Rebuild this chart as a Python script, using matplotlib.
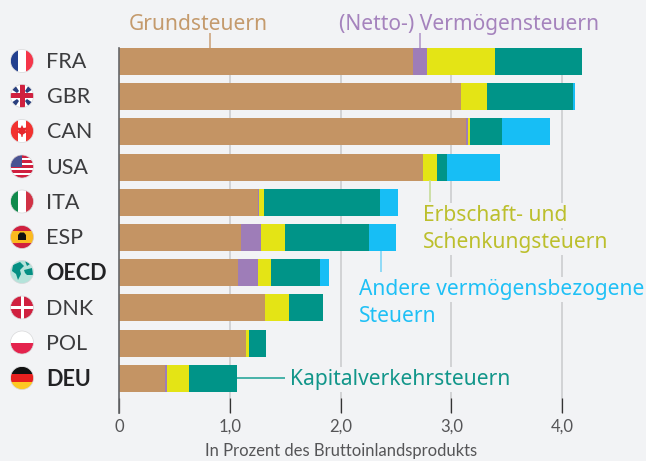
#!/usr/bin/env python3
"""Vermoegensbezogene Steuern in Prozent des BIP, gestapelte Balken mit Flaggen."""

import matplotlib
matplotlib.use("Agg")
import matplotlib.pyplot as plt
import numpy as np
from matplotlib.patches import Circle, Polygon, Rectangle

plt.rcParams["font.family"] = ["Lato", "DejaVu Sans"]

W, H = 646, 461
BG = "#f2f3f5"

countries = ["FRA", "GBR", "CAN", "USA", "ITA", "ESP", "OECD", "DNK", "POL", "DEU"]
bold_countries = ["OECD", "DEU"]
grund = [2.65, 3.09, 3.13, 2.74, 1.25, 1.10, 1.07, 1.32, 1.15, 0.415]
netto = [0.13, 0.00, 0.02, 0.00, 0.01, 0.18, 0.18, 0.00, 0.00, 0.02]
erbschaft = [0.61, 0.235, 0.02, 0.13, 0.05, 0.22, 0.125, 0.215, 0.02, 0.20]
kapital = [0.79, 0.775, 0.29, 0.09, 1.05, 0.76, 0.44, 0.305, 0.16, 0.43]
andere = [0.00, 0.02, 0.43, 0.48, 0.16, 0.24, 0.08, 0.00, 0.00, 0.00]
series = [grund, netto, erbschaft, kapital, andere]
colors = ["#c49464", "#9e7db8", "#e4e415", "#009488", "#17bef5"]
ticks = [0, 1, 2, 3, 4]
tick_labels = ["0", "1,0", "2,0", "3,0", "4,0"]

TEXT = "#3c3c3e"
GRID = "#c9cacc"

fig = plt.figure(figsize=(W / 100, H / 100), dpi=100, facecolor=BG)


def px_axes(x0, x1, y0, y1):
    return fig.add_axes([x0 / W, 1 - y1 / H, (x1 - x0) / W, (y1 - y0) / H])


# bars
ax = px_axes(119, 646, 48, 413)
ax.set_facecolor("none")
ax.set_xlim(0, 527 / 110.8)
ax.set_ylim((413 - 61.5) / 35.2, (48 - 61.5) / 35.2)
ax.set_axisbelow(True)
ax.xaxis.grid(True, color=GRID, linewidth=1.1)
y = np.arange(len(countries))
left = np.zeros(len(countries))
for values, color in zip(series, colors):
    ax.barh(y, values, left=left, height=27 / 35.2, color=color, linewidth=0)
    left += np.array(values)
for side in ("top", "right", "bottom"):
    ax.spines[side].set_visible(False)
ax.spines["left"].set_color("#66676a")
ax.spines["left"].set_linewidth(1.2)
ax.set_yticks([])
ax.set_xticks(ticks)
ax.set_xticklabels(tick_labels, fontsize=12, color="#555557")
ax.tick_params(axis="x", direction="in", length=10.8, width=0.9, color="#333333", pad=4)

# overlay in pixel coordinates for labels and flags
ov = px_axes(0, W, 0, H)
ov.set_xlim(0, W)
ov.set_ylim(H, 0)
ov.axis("off")
ov.patch.set_alpha(0)


def label(x, yc, text, color, size=15.1, box=True):
    kw = {"bbox": dict(facecolor=BG, edgecolor="none", pad=1.5)} if box else {}
    ov.text(x, yc + 1.5, text, color=color, fontsize=size, va="center", ha="left",
            family=["Noto Sans", "DejaVu Sans"], **kw)


def leader(xs, ys, color):
    ov.plot(xs, ys, color=color, linewidth=1.2, solid_capstyle="butt")


leader([210, 210], [33, 48], "#cda67f")
leader([420, 420], [33, 48], "#b49bcb")
leader([430, 430], [180, 202], "#c6dc98")
leader([381, 381], [251, 272], "#7ed6f7")
leader([237, 285], [378, 378], "#2aa79b")

label(129, 23, "Grundsteuern", "#c49a6c", box=False)
label(339, 23, "(Netto-) Vermögensteuern", "#a583bd", box=False)
label(423, 214, "Erbschaft- und", "#bcbf2c")
label(423, 241, "Schenkungsteuern", "#bcbf2c")
label(359, 288, "Andere vermögensbezogene", "#1fc0f5")
label(359, 315, "Steuern", "#1fc0f5")
label(290, 378, "Kapitalverkehrsteuern", "#12968a")

ov.text(341, 451, "In Prozent des Bruttoinlandsprodukts", fontsize=12,
        color="#555557", ha="center", va="center")


def add_flag(cx, cy, shapes, ring="#d8d8da"):
    r = 11.5
    clip = Circle((cx, cy), r, transform=ov.transData)
    for kind, coords, color in shapes:
        if kind == "rect":
            x0, y0, w, h = coords
            p = Rectangle((cx + x0, cy + y0), w, h, facecolor=color, edgecolor="none")
        else:
            p = Polygon([(cx + a, cy + b) for a, b in coords], facecolor=color, edgecolor="none")
        ov.add_patch(p)
        p.set_clip_path(clip)
    ov.add_patch(Circle((cx, cy), r, fill=False, edgecolor=ring, linewidth=0.5))


def vstripes(*cols):
    w = 23 / len(cols)
    return [("rect", (-11.5 + i * w, -11.5, w, 23), c) for i, c in enumerate(cols)]


def hstripes(*cols):
    h = 23 / len(cols)
    return [("rect", (-11.5, -11.5 + i * h, 23, h), c) for i, c in enumerate(cols)]


RED = "#d0203f"
flags = {
    "FRA": vstripes("#23408f", "#ffffff", "#f5364a"),
    "GBR": [("rect", (-12, -12, 24, 24), "#ffffff"),
            ("poly", [(-11, -11), (-7, -11), (-3, -5), (-5, -3), (-11, -7)], "#2a3f7e"),
            ("poly", [(11, -11), (7, -11), (3, -5), (5, -3), (11, -7)], "#2a3f7e"),
            ("poly", [(-11, 11), (-7, 11), (-3, 5), (-5, 3), (-11, 7)], "#2a3f7e"),
            ("poly", [(11, 11), (7, 11), (3, 5), (5, 3), (11, 7)], "#2a3f7e"),
            ("rect", (-2.5, -12, 5, 24), RED), ("rect", (-12, -2.5, 24, 5), RED)],
    "CAN": vstripes("#f2312f", "#ffffff", "#f2312f") + [
        ("poly", [(0, -6), (1.5, -3), (4.5, -3.5), (3.5, 0), (5, 1), (1, 3.5), (0.5, 6),
                  (-0.5, 6), (-1, 3.5), (-5, 1), (-3.5, 0), (-4.5, -3.5), (-1.5, -3)], "#e5262c")],
    "USA": hstripes(RED, "#ffffff", RED, "#ffffff", RED, "#ffffff", RED, "#ffffff", RED)
           + [("rect", (-12, -12, 12, 12), "#4a5392")],
    "ITA": vstripes("#108a4c", "#ffffff", "#d13245"),
    "ESP": [("rect", (-12, -12, 24, 24), RED), ("rect", (-12, -6, 24, 12), "#fbb91f"),
            ("poly", [(-4, 3), (-4, -2), (-2, -4.5), (2, -4.5), (4, -2), (4, 3)], "#111111")],
    "OECD": [("rect", (-12, -12, 24, 24), "#b5e3da"),
             ("poly", [(-9, -7), (-2, -10), (2, -6), (-2, -2), (-1, 2), (-4, 8), (-6, 2), (-10, -1)], "#058f83"),
             ("poly", [(2, -2), (10, -4), (11, 3), (5, 3), (3, 1)], "#058f83"),
             ("poly", [(3, -11), (8, -8), (5, -6)], "#058f83")],
    "DNK": [("rect", (-12, -12, 24, 24), RED), ("rect", (-1.5, -12, 3, 24), "#ffffff"),
            ("rect", (-12, -1.5, 24, 3), "#ffffff")],
    "POL": hstripes("#ffffff", "#e4234d"),
    "DEU": hstripes("#111111", "#e8201f", "#fdc823"),
}
flag_y = [61, 96, 131, 166.5, 201.5, 237, 272, 307.5, 342.5, 378]

for name, fy in zip(countries, flag_y):
    add_flag(22, fy, flags[name])
    heavy = name in bold_countries
    ov.text(46.5, fy + 1, name, fontsize=15.5, va="center", ha="left",
            color="#222224" if heavy else TEXT, fontweight="bold" if heavy else "normal")

fig.savefig("out.png", dpi=100, facecolor=BG)
